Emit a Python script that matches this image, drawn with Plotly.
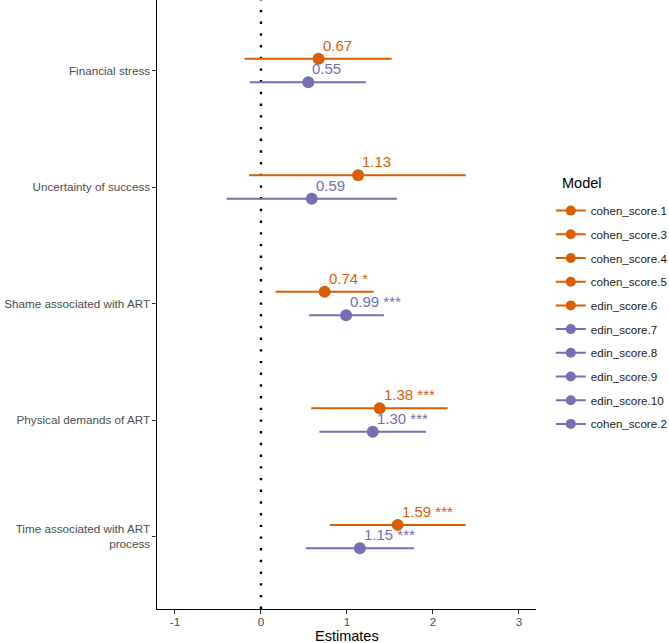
import plotly.graph_objects as go

categories = ["Financial stress", "Uncertainty of success", "Shame associated with ART",
              "Physical demands of ART", "Time associated with ART<br>process"]

orange_est = [0.67, 1.13, 0.74, 1.38, 1.59]
orange_lo = [-0.19, -0.14, 0.17, 0.585, 0.80]
orange_hi = [1.52, 2.38, 1.31, 2.17, 2.38]
orange_stars = ["", "", "*", "***", "***"]

purple_est = [0.55, 0.59, 0.99, 1.30, 1.15]
purple_lo = [-0.13, -0.40, 0.56, 0.68, 0.52]
purple_hi = [1.22, 1.58, 1.43, 1.92, 1.78]
purple_stars = ["", "", "***", "***", "***"]

legend_models = ["cohen_score.1", "cohen_score.3", "cohen_score.4", "cohen_score.5",
                 "edin_score.6", "edin_score.7", "edin_score.8", "edin_score.9",
                 "edin_score.10", "cohen_score.2"]
legend_group = ["o", "o", "o", "o", "o", "p", "p", "p", "p", "p"]

x_ticks = [-1, 0, 1, 2, 3]

ORANGE = "#D95F02"
PURPLE = "#7570B3"
FONT = "Liberation Sans, Arial, sans-serif"
DODGE = 0.1

cat_pos = list(range(1, len(categories) + 1))

fig = go.Figure()

series = [
    (orange_est, orange_lo, orange_hi, orange_stars, ORANGE, -DODGE),
    (purple_est, purple_lo, purple_hi, purple_stars, PURPLE, DODGE),
]

annotations = []
for est, lo, hi, stars, color, off in series:
    ys = [p + off for p in cat_pos]
    fig.add_trace(go.Scatter(
        x=est, y=ys, mode="markers",
        marker=dict(color=color, size=12),
        error_x=dict(type="data", symmetric=False,
                     array=[h - e for h, e in zip(hi, est)],
                     arrayminus=[e - l for e, l in zip(est, lo)],
                     color=color, thickness=2, width=0),
        showlegend=False, hoverinfo="skip",
    ))
    for e, y, s in zip(est, ys, stars):
        label = f"{e:.2f}" + (f" {s}" if s else "")
        annotations.append(dict(
            x=e, y=y, xref="x", yref="y", text=label, showarrow=False,
            xanchor="left", yanchor="bottom", xshift=2, yshift=3,
            font=dict(family=FONT, size=15, color=color),
        ))

# legend title and x-axis title
annotations.append(dict(x=1.0633, y=0.6995, xref="paper", yref="paper", text="Model",
                        showarrow=False, xanchor="left", yanchor="middle",
                        font=dict(family=FONT, size=14.5, color="black")))
annotations.append(dict(x=0.501, y=0, xref="paper", yref="paper", text="Estimates",
                        showarrow=False, xanchor="center", yanchor="top", yshift=-17,
                        font=dict(family=FONT, size=14.5, color="black")))

for name, g in zip(legend_models, legend_group):
    color = ORANGE if g == "o" else PURPLE
    fig.add_trace(go.Scatter(
        x=[None], y=[None], mode="lines+markers", name=name,
        line=dict(color=color, width=2), marker=dict(color=color, size=10),
        legendgroup=name,
    ))

fig.add_shape(type="line", x0=0, x1=0, y0=0, y1=1, xref="x", yref="paper",
              line=dict(color="black", width=2.4, dash="2.4px,9.3px"), layer="below")

fig.update_layout(
    width=669, height=643,
    margin=dict(l=157, r=133, t=0, b=34, autoexpand=False),
    plot_bgcolor="white", paper_bgcolor="white",
    font=dict(family=FONT, color="#4D4D4D", size=12),
    annotations=annotations,
    showlegend=True,
    legend=dict(
        x=1.039, xanchor="left", y=0.678, yanchor="top",
        font=dict(size=11.6, color="#1a1a1a", family=FONT),
        tracegroupgap=4.7, bgcolor="rgba(0,0,0,0)",
    ),
    xaxis=dict(
        range=[-1.209, 3.198], tickvals=x_ticks, ticktext=[str(t) for t in x_ticks],
        showgrid=False, zeroline=False, showline=True, linecolor="black", linewidth=1.1,
        ticks="outside", ticklen=3.5, tickcolor="#333333", tickwidth=1.1,
        tickfont=dict(size=11.7, color="#4D4D4D"), automargin=False,
        ticklabelstandoff=-2,
    ),
    yaxis=dict(
        range=[5.622, 0.395], tickvals=cat_pos, ticktext=categories,
        showgrid=False, zeroline=False, showline=True, linecolor="black", linewidth=1.1,
        ticks="outside", ticklen=3.5, tickcolor="#333333", tickwidth=1.1,
        tickfont=dict(size=11.7, color="#4D4D4D"), automargin=False,
    ),
)

fig.write_html("out.html", config={"displayModeBar": False},
               post_script="document.body.style.margin='0px';document.body.style.overflow='hidden';")
